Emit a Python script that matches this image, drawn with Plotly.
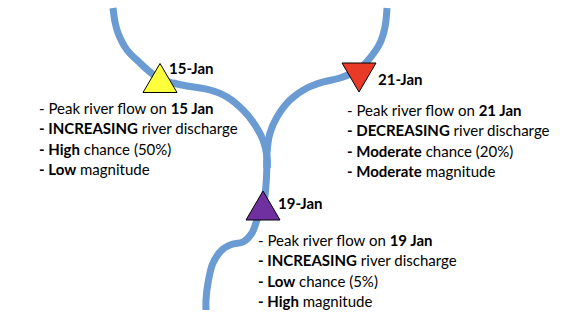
import plotly.graph_objects as go

# River channel centre-lines (pixel-like diagram coordinates)
left_x = [113, 115, 118, 127, 140, 150, 160, 173, 187, 210, 227, 243, 253, 263, 267, 267]
left_y = [8, 22, 33, 50, 63, 72, 79, 83, 86, 90, 97, 110, 122, 140, 157, 168]
right_x = [387, 385, 380, 370, 358, 340, 323, 307, 290, 277, 270, 267, 267]
right_y = [8, 27, 43, 58, 70, 78, 82, 88, 100, 117, 133, 153, 168]
stem_x = [267, 266, 263, 257, 252, 243, 233, 223, 213, 208, 206, 206]
stem_y = [160, 185, 207, 220, 233, 242, 244, 249, 263, 283, 300, 310]

# Peak markers
peak_dates = ["15-Jan", "21-Jan", "19-Jan"]
peak_x = [160, 359, 263]
peak_y = [78, 77.5, 205.5]
peak_up = [True, False, True]
peak_colors = ["#FFFF3C", "#E83A26", "#7030A0"]
label_x = [167, 376, 276]
label_y = [68, 79, 203]

# Text blocks
block_lines = [
    ["- Peak river flow on <b>15 Jan</b>",
     "<b>- INCREASING</b> river discharge",
     "<b>- High</b> chance (50%)",
     "<b>- Low</b> magnitude"],
    ["- Peak river flow on <b>21 Jan</b>",
     "<b>- DECREASING</b> river discharge",
     "<b>- Moderate</b> chance (20%)",
     "<b>- Moderate</b> magnitude"],
    ["- Peak river flow on <b>19 Jan</b>",
     "<b>- INCREASING</b> river discharge",
     "<b>- Low</b> chance (5%)",
     "<b>- High</b> magnitude"],
]
block_x = [37, 345, 256]
block_y0 = [108, 110, 240]
line_step = 20.3

river_color = "#6A9BD3"
FONT = "Lato"
TRI_HALF_W = 17
TRI_HALF_H = 14.5
FS = 15

fig = go.Figure()
for xs, ys in [(left_x, left_y), (right_x, right_y), (stem_x, stem_y)]:
    fig.add_trace(go.Scatter(x=xs, y=ys, mode="lines",
                             line=dict(color=river_color, width=7, shape="spline", smoothing=1.0),
                             hoverinfo="skip", showlegend=False))

for i in range(3):
    cx, cy = peak_x[i], peak_y[i]
    s = -1 if peak_up[i] else 1
    tx = [cx - TRI_HALF_W, cx + TRI_HALF_W, cx, cx - TRI_HALF_W]
    ty = [cy - s * TRI_HALF_H, cy - s * TRI_HALF_H, cy + s * TRI_HALF_H, cy - s * TRI_HALF_H]
    fig.add_trace(go.Scatter(x=tx, y=ty, mode="lines", fill="toself",
                             fillcolor=peak_colors[i],
                             line=dict(color="black", width=1),
                             hoverinfo="skip", showlegend=False))
    fig.add_annotation(x=label_x[i], y=label_y[i], text="<b>" + peak_dates[i] + "</b>",
                       showarrow=False, xanchor="left", yanchor="middle",
                       font=dict(family=FONT, size=FS, color="black"))
    for j, t in enumerate(block_lines[i]):
        fig.add_annotation(x=block_x[i], y=block_y0[i] + j * line_step, text=t,
                           showarrow=False, xanchor="left", yanchor="middle",
                           font=dict(family=FONT, size=FS, color="black"))

fig.update_layout(
    width=573, height=315,
    margin=dict(l=0, r=0, t=0, b=0),
    paper_bgcolor="white", plot_bgcolor="white",
    xaxis=dict(range=[0, 573], visible=False, fixedrange=True),
    yaxis=dict(range=[315, 0], visible=False, fixedrange=True),
)
fig.write_html("out.html", config={"displayModeBar": False},
               post_script="document.body.style.margin='0';document.body.style.overflow='hidden';")
